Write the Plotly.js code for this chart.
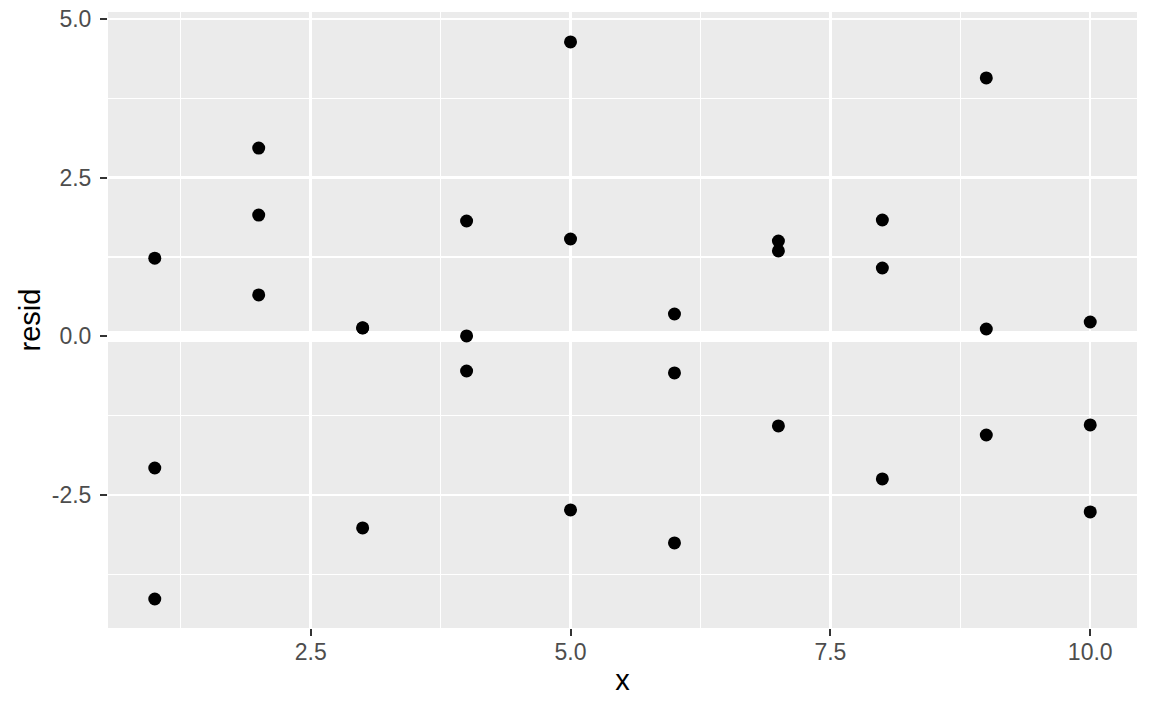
<!DOCTYPE html>
<html>
<head>
<meta charset="utf-8">
<script src="https://cdn.plot.ly/plotly-3.0.1.min.js"></script>
<style>html,body{margin:0;padding:0;background:#fff;}#chart{width:1152px;height:711px;}</style>
</head>
<body>
<div id="chart"></div>
<script>
// Data
const xValues = [1, 1, 1, 2, 2, 2, 3, 3, 3, 4, 4, 4, 5, 5, 5, 6, 6, 6, 7, 7, 7, 8, 8, 8, 9, 9, 9, 10, 10, 10];
const residValues = [
  1.231, -2.075, -4.139,
  2.965, 1.910, 0.651,
  0.131, 0.134, -3.020,
  1.816, 0.005, -0.547,
  4.637, 1.533, -2.736,
  0.351, -0.578, -3.255,
  1.501, 1.344, -1.413,
  1.832, 1.076, -2.247,
  4.070, 0.115, -1.555,
  0.225, -1.397, -2.767
];
const xTickVals = [2.5, 5.0, 7.5, 10.0];
const xTickText = ["2.5", "5.0", "7.5", "10.0"];
const xMinorVals = [1.25, 3.75, 6.25, 8.75];
const yTickVals = [-2.5, 0.0, 2.5, 5.0];
const yTickText = ["-2.5", "0.0", "2.5", "5.0"];
const yMinorVals = [-3.75, -1.25, 1.25, 3.75];

const trace = {
  x: xValues,
  y: residValues,
  type: 'scatter',
  mode: 'markers',
  marker: {color: '#000000', size: 13},
  hoverinfo: 'x+y'
};

const tickFont = {family: 'Liberation Sans, Arial, sans-serif', size: 23, color: '#4D4D4D'};
const titleFont = {family: 'Liberation Sans, Arial, sans-serif', size: 29, color: '#000000'};

const layout = {
  width: 1152,
  height: 711,
  paper_bgcolor: '#FFFFFF',
  plot_bgcolor: '#EBEBEB',
  margin: {l: 108, r: 15, t: 12, b: 83, pad: 0},
  showlegend: false,
  xaxis: {
    range: [0.55, 10.45],
    tickmode: 'array',
    tickvals: xTickVals,
    ticktext: xTickText,
    ticks: 'outside',
    ticklen: 7,
    tickwidth: 2,
    tickcolor: '#333333',
    tickfont: tickFont,
    ticklabelstandoff: -4,
    showgrid: true,
    gridcolor: '#FFFFFF',
    gridwidth: 2.5,
    zeroline: false,
    showline: false,
    minor: {tickmode: 'array', tickvals: xMinorVals, showgrid: true, gridcolor: '#FFFFFF', gridwidth: 1.2, ticklen: 0},
    title: {text: 'x', font: titleFont, standoff: 6},
    automargin: false
  },
  yaxis: {
    range: [-4.596, 5.109],
    tickmode: 'array',
    tickvals: yTickVals,
    ticktext: yTickText,
    ticks: 'outside',
    ticklen: 7,
    tickwidth: 2,
    tickcolor: '#333333',
    tickfont: tickFont,
    ticklabelstandoff: 4,
    showgrid: true,
    gridcolor: '#FFFFFF',
    gridwidth: 2.5,
    zeroline: true,
    zerolinecolor: '#FFFFFF',
    zerolinewidth: 11,
    showline: false,
    minor: {tickmode: 'array', tickvals: yMinorVals, showgrid: true, gridcolor: '#FFFFFF', gridwidth: 1.2, ticklen: 0},
    title: {text: 'resid', font: titleFont, standoff: 2},
    automargin: false
  }
};

Plotly.newPlot('chart', [trace], layout, {displayModeBar: false, staticPlot: true});
</script>
</body>
</html>
